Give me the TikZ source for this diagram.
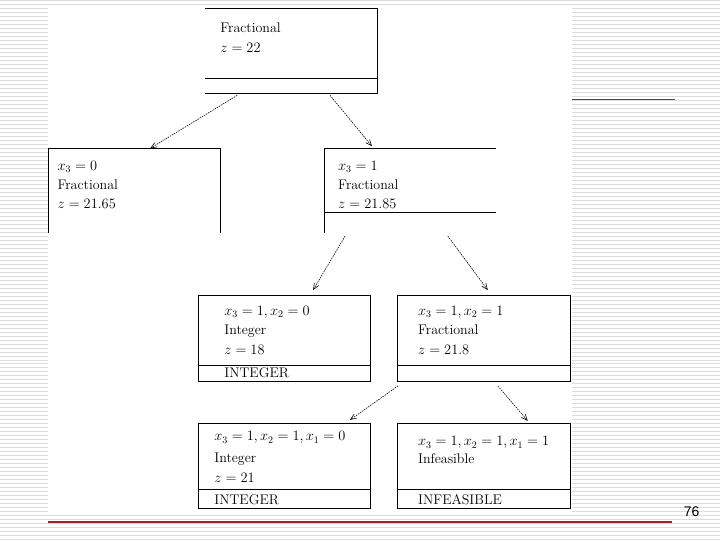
\documentclass[tikz,border=0pt]{standalone}
\usepackage{amsmath}
\usepackage{fontspec}
\newfontfamily\slidefont{Liberation Sans}
\usetikzlibrary{arrows.meta}
\definecolor{stripegray}{RGB}{221,221,221}
\definecolor{slidered}{RGB}{175,25,35}
\newcommand{\boxtext}[4]{ % Takes node name, x coord, baseline y coord, text as arguments
    \node [boxtxt] (#1) at (#2, #3) {#4};
}

\begin{document}
\begin{tikzpicture}[x=1pt, y=-1pt,
    stripe/.style={stripegray, line width=1pt},
    frame/.style={black, line width=1pt},
    branch/.style={line width=0.6pt, dash pattern=on 1.5pt off 1pt, -{Straight Barb[length=6pt,width=5pt]}},
    boxtxt/.style={anchor=base west, inner sep=0pt, font=\fontsize{14}{16}\selectfont},
    redrule/.style={slidered, line width=1.5pt}]

    % Slide background
    \fill[white] (0,0) rectangle (720,540);
    \foreach \y in {0,4,...,540}
        \draw[stripe] (0,\y) -- (720,\y);
    \fill[white] (48,6) rectangle (572,512);
    \useasboundingbox (0,0) rectangle (720,540);

    % Red rules and page number
    \draw[redrule] (572,99) -- (675,99);
    \draw[redrule] (48,522) -- (672,522);
    \node[font=\slidefont\fontsize{14}{16}\selectfont] (pagenum) at (692,512) {76};

    % Root box
    \draw[frame] (205,8) -- (378,8) -- (378,93) -- (205,93);
    \draw[frame] (205,78) -- (378,78);
    \boxtext{rootA}{220}{32}{Fractional}
    \boxtext{rootB}{220}{52}{$z = 22$}

    % Branch x3 = 0
    \draw[frame] (48,233) -- (48,148) -- (220,148) -- (220,233);
    \boxtext{leftA}{57}{170}{$x_3 = 0$}
    \boxtext{leftB}{57}{189}{Fractional}
    \boxtext{leftC}{57}{208}{$z = 21.65$}

    % Branch x3 = 1
    \draw[frame] (324,233) -- (324,148) -- (496,148);
    \draw[frame] (324,212) -- (496,212);
    \boxtext{rightA}{338}{170}{$x_3 = 1$}
    \boxtext{rightB}{338}{189}{Fractional}
    \boxtext{rightC}{338}{208}{$z = 21.85$}

    % Branch x2 = 0
    \draw[frame] (198,295) rectangle (371,382);
    \draw[frame] (198,366) -- (371,366);
    \boxtext{intA}{224}{315}{$x_3 = 1, x_2 = 0$}
    \boxtext{intB}{224}{334}{Integer}
    \boxtext{intC}{224}{354}{$z = 18$}
    \boxtext{intD}{224}{378}{INTEGER}

    % Branch x2 = 1
    \draw[frame] (398,295) rectangle (571,382);
    \draw[frame] (398,366) -- (571,366);
    \boxtext{fracA}{418}{315}{$x_3 = 1, x_2 = 1$}
    \boxtext{fracB}{418}{334}{Fractional}
    \boxtext{fracC}{418}{354}{$z = 21.8$}

    % Branch x1 = 0
    \draw[frame] (198,424) rectangle (371,509);
    \draw[frame] (198,490) -- (371,490);
    \boxtext{lastA}{214}{441}{$x_3 = 1, x_2 = 1, x_1 = 0$}
    \boxtext{lastB}{214}{463}{Integer}
    \boxtext{lastC}{214}{483}{$z = 21$}
    \boxtext{lastD}{214}{505}{INTEGER}

    % Branch x1 = 1
    \draw[frame] (398,424) rectangle (571,509);
    \draw[frame] (398,490) -- (571,490);
    \boxtext{infA}{418}{446}{$x_3 = 1, x_2 = 1, x_1 = 1$}
    \boxtext{infB}{418}{464}{Infeasible}
    \boxtext{infD}{418}{505}{INFEASIBLE}

    % Arrow ends
    \coordinate (r1) at (237,95);  \coordinate (r2) at (150,148);
    \coordinate (r3) at (330,95);  \coordinate (r4) at (372,146);
    \coordinate (s1) at (345,236); \coordinate (s2) at (313,290);
    \coordinate (s3) at (448,236); \coordinate (s4) at (488,290);
    \coordinate (t1) at (398,386); \coordinate (t2) at (350,420);
    \coordinate (t3) at (498,386); \coordinate (t4) at (528,421);

    % Arrows
    \draw[branch] (r1) -- (r2);
    \draw[branch] (r3) -- (r4);
    \draw[branch] (s1) -- (s2);
    \draw[branch] (s3) -- (s4);
    \draw[branch] (t1) -- (t2);
    \draw[branch] (t3) -- (t4);
\end{tikzpicture}
\end{document}
